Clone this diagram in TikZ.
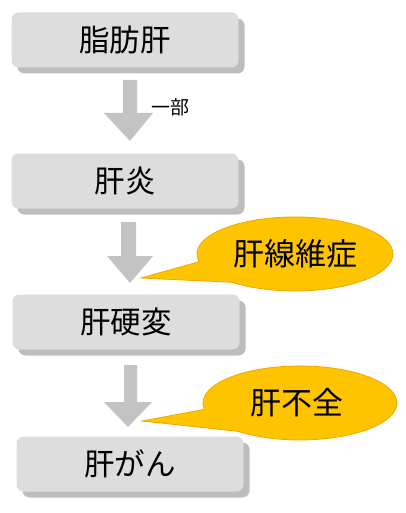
\documentclass[tikz,border=0pt]{standalone}
\usepackage{fontspec}
\newfontfamily\jp{Noto Sans CJK JP}
\definecolor{boxfill}{HTML}{DDDDDD}
\definecolor{boxshadow}{HTML}{BDBDBD}
\definecolor{arrowgray}{HTML}{C3C3C3}
\definecolor{callfill}{HTML}{FFC400}
\definecolor{callline}{HTML}{F0A800}
\tikzset{
  stagebox/.style={fill=boxfill, rounded corners=7pt, minimum width=227pt, minimum height=55pt, inner sep=0pt, font=\jp\fontsize{30.5}{33}\selectfont},
  shadowbox/.style={fill=boxshadow, rounded corners=7pt, minimum width=227pt, minimum height=55pt, inner sep=0pt},
  bigarrow/.style={fill=arrowgray, draw=none},
  callout/.style={fill=callfill, draw=callline, line width=0.8pt},
  calltext/.style={font=\jp\fontsize{31}{33}\selectfont, inner sep=0pt},
}
\begin{document}
\begin{tikzpicture}[x=1pt,y=-1pt]
\useasboundingbox (0,0) rectangle (405,513);
% shadows
\node[shadowbox] at (131,46) {};
\node[shadowbox] at (131,187) {};
\node[shadowbox] at (132,328) {};
\node[shadowbox] at (136,470) {};
% boxes
\node[stagebox] (b1) at (125,40) {脂肪肝};
\node[stagebox] (b2) at (125,181) {肝炎};
\node[stagebox] (b3) at (126,322) {肝硬変};
\node[stagebox] (b4) at (130,464) {肝がん};
% arrows
\path[bigarrow] (123,80) -- (137,80) -- (137,113) -- (153,113) -- (130,141) -- (104,113) -- (123,113) -- cycle;
\path[bigarrow] (121,222) -- (136,222) -- (136,256) -- (153,256) -- (130,283) -- (107,256) -- (121,256) -- cycle;
\path[bigarrow] (124,365) -- (137,365) -- (137,402) -- (152,402) -- (128,427) -- (104,402) -- (124,402) -- cycle;
\node[font=\jp\fontsize{19}{21}\selectfont, inner sep=0pt] (note) at (170,107) {一部};
% callouts
\coordinate (t1) at (141,278);
\draw[callout] (t1) -- (232,282.3) arc[start angle=130, end angle=-192, x radius=98, y radius=37] -- cycle;
\node[calltext] (c1) at (295,254) {肝線維症};
\coordinate (t2) at (142,421);
\draw[callout] (t2) -- (237.6,431.3) arc[start angle=130, end angle=-190, x radius=97, y radius=37] -- cycle;
\node[calltext] (c2) at (297,403) {肝不全};
\end{tikzpicture}
\end{document}
